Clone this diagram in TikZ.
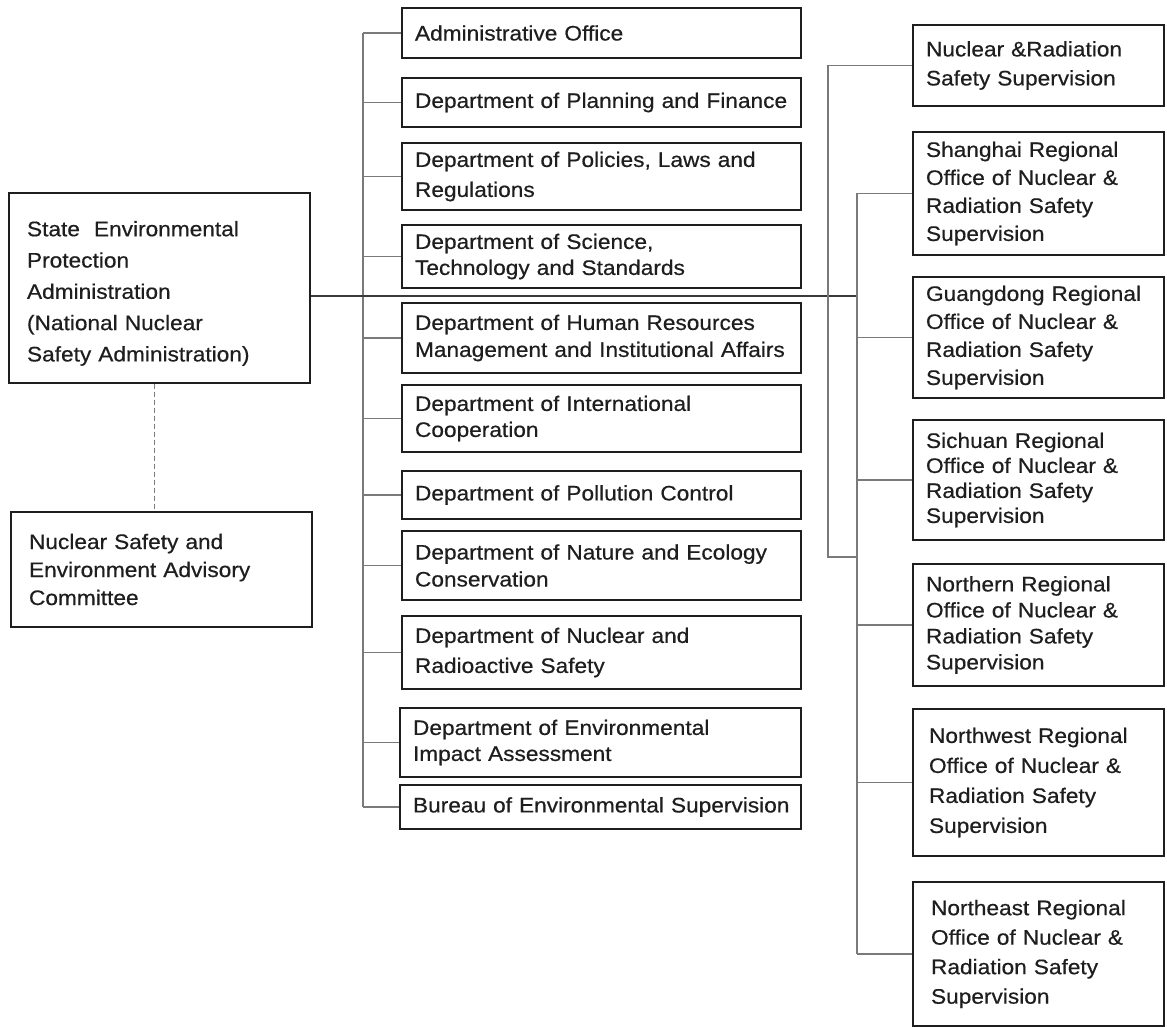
\documentclass[tikz,border=0pt]{standalone}
\usepackage{fontspec}
\setmainfont[FakeStretch=1.08, FakeBold=0.5]{Liberation Sans}
\definecolor{ink}{HTML}{1E1E1E}
\definecolor{wire}{HTML}{7A7A7A}
\definecolor{mainwire}{HTML}{3A3A3A}
\tikzset{
  box/.style={draw=ink, line width=1.8pt, rectangle, inner xsep=13pt, inner ysep=0pt,
    align=left, text=ink, font=\fontsize{21}{27}\selectfont},
  midbox/.style={box, minimum width=399pt, text width=373pt},
  rbox/.style={box, minimum width=251pt, text width=225pt, inner xsep=13pt},
  lbox/.style={box, minimum width=301pt, text width=265pt, inner xsep=18pt},
  wireline/.style={draw=wire, line width=1.3pt},
  mainline/.style={draw=mainwire, line width=1.4pt},
  dashline/.style={draw=wire, line width=1.2pt, dashed, dash pattern=on 5pt off 3pt}
}
\hyphenpenalty=10000
\exhyphenpenalty=10000
\begin{document}
\begin{tikzpicture}[x=1pt, y=-1pt]
\useasboundingbox[fill=white] (0,0) rectangle (1167,1027);

% left column
\node[lbox, minimum height=190pt, font=\fontsize{21}{31.3}\selectfont] (sepa) at (159.5,288)
  {\rule{0pt}{26pt}State~ Environmental\\Protection\\Administration\\(National Nuclear\\Safety Administration)};
\node[lbox, minimum height=115pt, font=\fontsize{21}{28}\selectfont] (adv) at (161.5,569.5)
  {Nuclear Safety and\\Environment Advisory\\Committee};

% middle column
\node[midbox, minimum height=50pt] (admin) at (601.5,33) {Administrative Office};
\node[midbox, minimum height=49pt] (plan) at (601.5,102.5) {Department of Planning and Finance};
\node[midbox, minimum height=67pt, font=\fontsize{21}{30}\selectfont] (pol) at (601.5,176.5) {Department of Policies, Laws and\\Regulations};
\node[midbox, minimum height=63pt, font=\fontsize{21}{26}\selectfont] (sci) at (601.5,256.5) {Department of Science,\\Technology and Standards};
\node[midbox, minimum height=70pt] (hr) at (601.5,338) {Department of Human Resources\\Management and Institutional Affairs};
\node[midbox, minimum height=67pt, font=\fontsize{21}{26}\selectfont] (intl) at (601.5,418.5) {Department of International\\Cooperation};
\node[midbox, minimum height=48pt] (poll) at (601.5,495) {Department of Pollution Control};
\node[midbox, minimum height=69pt] (nat) at (601.5,565.5) {Department of Nature and Ecology\\Conservation};
\node[midbox, minimum height=73pt, font=\fontsize{21}{30}\selectfont] (nuc) at (601.5,652.5) {Department of Nuclear and\\Radioactive Safety};
\node[midbox, minimum height=69pt, minimum width=401pt, text width=375pt, font=\fontsize{21}{26}\selectfont] (eia) at (600.5,742.5) {Department of Environmental\\Impact Assessment};
\node[midbox, minimum height=44pt, minimum width=401pt, inner xsep=9pt, text width=383pt] (bur) at (600.5,807) {\hspace*{4pt}Bureau of Environmental Supervision};

% right column
\node[rbox, minimum height=81pt, font=\fontsize{21}{29}\selectfont] (nr) at (1038.5,65.5) {Nuclear \&Radiation\\Safety Supervision};
\node[rbox, minimum height=123pt, font=\fontsize{21}{28}\selectfont] (sh) at (1038.5,193.5) {Shanghai Regional\\Office of Nuclear \&\\Radiation Safety\\Supervision};
\node[rbox, minimum height=121pt, font=\fontsize{21}{28}\selectfont] (gd) at (1038.5,337.5) {Guangdong Regional\\Office of Nuclear \&\\Radiation Safety\\Supervision};
\node[rbox, minimum height=120pt, font=\fontsize{21}{25}\selectfont] (sc) at (1038.5,480) {Sichuan Regional\\Office of Nuclear \&\\Radiation Safety\\Supervision};
\node[rbox, minimum height=122pt, font=\fontsize{21}{26}\selectfont] (no) at (1038.5,625) {Northern Regional\\Office of Nuclear \&\\Radiation Safety\\Supervision};
\node[rbox, minimum height=147pt, inner xsep=16pt, text width=219pt, font=\fontsize{21}{30}\selectfont] (nw) at (1038.5,782.5) {Northwest Regional\\Office of Nuclear \&\\Radiation Safety\\Supervision};
\node[rbox, minimum height=144pt, inner xsep=18pt, text width=215pt, font=\fontsize{21}{29.5}\selectfont] (ne) at (1038.5,954) {Northeast Regional\\Office of Nuclear \&\\Radiation Safety\\Supervision};

% bus coordinates
\coordinate (lb) at (363,0);
\coordinate (ob) at (828,0);
\coordinate (ib) at (857,0);
\coordinate (obend) at (828,557);
\coordinate (mj) at (857,296);

% left bus and stubs
\draw[wireline] (lb |- admin.west) -- (lb |- bur.west);
\foreach \n in {admin,plan,pol,sci,hr,intl,poll,nat,nuc,eia,bur}
  \draw[wireline] (lb |- \n.west) -- (\n.west);

% main line
\draw[mainline] (mj -| sepa.east) -- (mj);

% dashed link to advisory committee
\draw[dashline] ([xshift=-5pt]sepa.south) -- ([xshift=-5pt]sepa.south |- adv.north);

% outer bus
\draw[wireline] (nr.west) -- (ob |- nr.west) -- (obend) -- (obend -| ib);

% inner bus and stubs
\draw[wireline] (ib |- sh.west) -- (ib |- ne.west);
\foreach \n in {sh,gd,sc,no,nw,ne}
  \draw[wireline] (ib |- \n.west) -- (\n.west);
\end{tikzpicture}
\end{document}
